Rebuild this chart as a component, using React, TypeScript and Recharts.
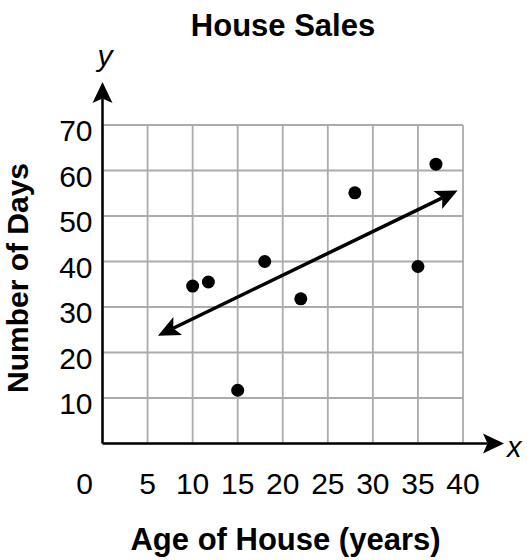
import React from "react";
import {
  ScatterChart,
  Scatter,
  XAxis,
  YAxis,
  CartesianGrid,
  ReferenceLine,
} from "recharts";

// ---- data ----
const houseAges = [10, 11.75, 15, 18, 22, 28, 35, 37];
const daysOnMarket = [34.6, 35.5, 11.7, 40, 31.8, 55.1, 38.9, 61.4];
const xTicks = [0, 5, 10, 15, 20, 25, 30, 35, 40];
const yTicks = [0, 10, 20, 30, 40, 50, 60, 70];
const trendAges = [6.15, 39.4];
const trendDays = [23.7, 55.6];
const axisArrowEnds = { x: 44.55, y: 79.45 };

const chartTitle = "House Sales";
const xTitle = "Age of House (years)";
const yTitle = "Number of Days";

const points = houseAges.map((a, i) => ({ age: a, days: daysOnMarket[i] }));

const FONT = "'Liberation Sans', Arial, Helvetica, sans-serif";

function arrowHead(x1: number, y1: number, x2: number, y2: number, L = 21, W = 10, N = 4.5) {
  const dx = x2 - x1;
  const dy = y2 - y1;
  const len = Math.sqrt(dx * dx + dy * dy) || 1;
  const ux = dx / len;
  const uy = dy / len;
  const px = -uy;
  const py = ux;
  const bx = x2 - ux * L;
  const by = y2 - uy * L;
  const nx = x2 - ux * (L - N);
  const ny = y2 - uy * (L - N);
  return {
    pts: `${x2},${y2} ${bx + px * W},${by + py * W} ${nx},${ny} ${bx - px * W},${by - py * W}`,
    nx,
    ny,
  };
}

const AxisArrow = (props: any) => {
  const { x1, y1, x2, y2 } = props;
  const h = arrowHead(x1, y1, x2, y2);
  return (
    <g>
      <line x1={x1} y1={y1} x2={h.nx} y2={h.ny} stroke="#000" strokeWidth={2.5} />
      <polygon points={h.pts} fill="#000" />
    </g>
  );
};

const DoubleArrow = (props: any) => {
  const { x1, y1, x2, y2 } = props;
  const a = arrowHead(x1, y1, x2, y2, 22, 10, 5);
  const b = arrowHead(x2, y2, x1, y1, 22, 10, 5);
  return (
    <g>
      <line x1={b.nx} y1={b.ny} x2={a.nx} y2={a.ny} stroke="#000" strokeWidth={3.5} />
      <polygon points={a.pts} fill="#000" />
      <polygon points={b.pts} fill="#000" />
    </g>
  );
};

const XTick = (props: any) => {
  const { x, y, payload } = props;
  const v = payload.value;
  const dx = v === 0 ? -18 : 0;
  return (
    <text x={x + dx} y={y + 50} textAnchor="middle" fontSize={30} fontFamily={FONT} fill="#000">
      {v}
    </text>
  );
};

const YTick = (props: any) => {
  const { x, y, payload } = props;
  if (payload.value === 0) return <g />;
  return (
    <text x={x - 10} y={y + 16} textAnchor="end" fontSize={30} fontFamily={FONT} fill="#000">
      {payload.value}
    </text>
  );
};

const Dot = (props: any) => {
  const { cx, cy } = props;
  return <circle cx={cx} cy={cy} r={6.5} fill="#000" />;
};

export default function App() {
  return (
    <div style={{ position: "absolute", left: 0, top: 0, width: 527, height: 560, background: "#fff" }}>
      <ScatterChart
        width={527}
        height={560}
        margin={{ top: 125, right: 64, bottom: 96.5, left: 62.5 }}
      >
        <CartesianGrid stroke="#ababab" strokeWidth={1.8} />
        <XAxis
          type="number"
          dataKey="age"
          domain={[0, 40]}
          ticks={xTicks}
          height={20}
          axisLine={false}
          tickLine={false}
          tickSize={0}
          tickMargin={0}
          tick={<XTick />}
          interval={0}
        />
        <YAxis
          type="number"
          dataKey="days"
          domain={[0, 70]}
          ticks={yTicks}
          width={40}
          axisLine={false}
          tickLine={false}
          tickSize={0}
          tickMargin={0}
          tick={<YTick />}
          interval={0}
        />
        <ReferenceLine
          segment={[{ x: 0, y: 0 }, { x: 0, y: axisArrowEnds.y }]}
          ifOverflow="visible"
          shape={AxisArrow}
        />
        <ReferenceLine
          segment={[{ x: 0, y: 0 }, { x: axisArrowEnds.x, y: 0 }]}
          ifOverflow="visible"
          shape={AxisArrow}
        />
        <ReferenceLine
          segment={[
            { x: trendAges[0], y: trendDays[0] },
            { x: trendAges[1], y: trendDays[1] },
          ]}
          ifOverflow="visible"
          shape={DoubleArrow}
        />
        <Scatter data={points} fill="#000" shape={Dot} isAnimationActive={false} />
      </ScatterChart>
      <svg
        width={527}
        height={560}
        style={{ position: "absolute", left: 0, top: 0, pointerEvents: "none" }}
      >
        <text x={283} y={36} textAnchor="middle" fontSize={31} fontWeight="bold" fontFamily={FONT} fill="#000">
          {chartTitle}
        </text>
        <text x={105} y={65.5} textAnchor="middle" fontSize={30} fontStyle="italic" fontFamily={FONT} fill="#000">
          y
        </text>
        <text x={507} y={456.5} textAnchor="start" fontSize={29} fontStyle="italic" fontFamily={FONT} fill="#000">
          x
        </text>
        <text
          x={0}
          y={0}
          transform="translate(28,278) rotate(-90)"
          textAnchor="middle"
          fontSize={30}
          fontWeight="bold"
          fontFamily={FONT}
          fill="#000"
        >
          {yTitle}
        </text>
        <text x={285.5} y={550} textAnchor="middle" fontSize={31} fontWeight="bold" fontFamily={FONT} fill="#000">
          {xTitle}
        </text>
      </svg>
    </div>
  );
}
